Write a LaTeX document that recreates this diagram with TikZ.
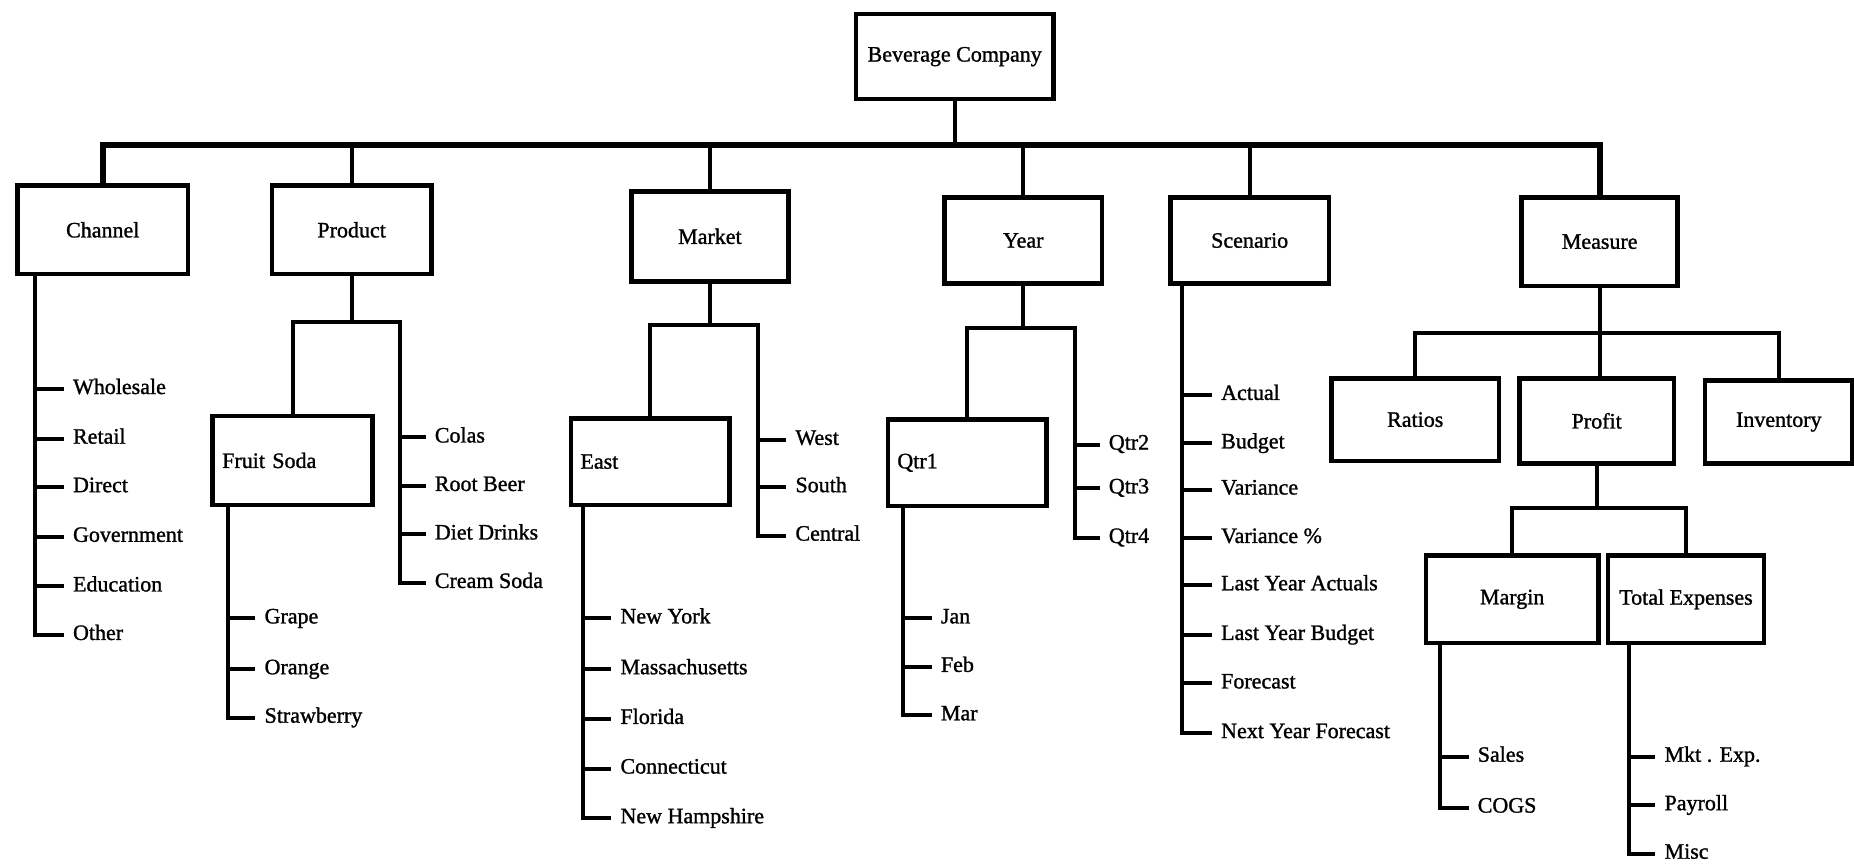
\documentclass[tikz,border=0pt]{standalone}
\usepackage{fontspec}
\setmainfont{Liberation Serif}[FakeBold=1.2]
\usetikzlibrary{calc}
\newcommand\mkbox[7][]{\node[box,minimum width={(#5-#3)*1.1824pt},minimum height={(#6-#4)*1.1824pt},#1] (#2) at (#3,#4) {#7};}
\begin{document}
\begin{tikzpicture}[x=1.1824pt, y=-1.1824pt,
  every node/.style={font=\fontsize{22}{26}\selectfont},
  box/.style={draw, line width=4.5pt, inner sep=0pt, anchor=north west},
  lbox/.style={align=left, inner xsep=9.5pt, text width={#1*1.1824pt-19pt}},
  leaf/.style={anchor=west, inner xsep=9pt, inner ysep=0pt, text height=15pt, text depth=5pt},
  conn/.style={line width=4pt, line join=miter}]
\useasboundingbox (0,0) rectangle (1568,733);
% boxes
\mkbox{root}{722}{10}{889}{82}{Beverage Company}
\mkbox{chan}{13}{155}{157}{230}{Channel}
\mkbox{prod}{228}{155}{363}{230}{Product}
\mkbox{mkt}{532}{160}{665}{236}{Market}
\mkbox{year}{797}{165}{930}{238}{Year}
\mkbox{scen}{988}{165}{1122}{238}{Scenario}
\mkbox{meas}{1285}{165}{1417}{240}{Measure}
\mkbox[lbox=135]{fruit}{178}{350}{313}{425}{Fruit Soda}
\mkbox[lbox=134]{east}{481}{352}{615}{425}{East}
\mkbox[lbox=134]{qtr1}{749}{353}{883}{426}{Qtr1}
\mkbox{ratios}{1124}{318}{1266}{388}{Ratios}
\mkbox{profit}{1283}{318}{1414}{390}{Profit}
\mkbox{inv}{1440}{320}{1565}{390}{Inventory}
\mkbox{margin}{1204}{468}{1350}{542}{Margin}
\mkbox{totexp}{1358}{468}{1490}{542}{Total Expenses}
% leaves
\node[leaf] (whole) at (54,329) {Wholesale};
\node[leaf] (retail) at (54,371) {Retail};
\node[leaf] (direct) at (54,412) {Direct};
\node[leaf] (gov) at (54,454) {Government};
\node[leaf] (edu) at (54,496) {Education};
\node[leaf] (other) at (54,537) {Other};
\node[leaf] (colas) at (360,370) {Colas};
\node[leaf] (rootb) at (360,411) {Root Beer};
\node[leaf] (diet) at (360,452) {Diet Drinks};
\node[leaf] (cream) at (360,493) {Cream Soda};
\node[leaf] (grape) at (216,523) {Grape};
\node[leaf] (orange) at (216,566) {Orange};
\node[leaf] (straw) at (216,607) {Strawberry};
\node[leaf] (west) at (665,372) {West};
\node[leaf] (south) at (665,412) {South};
\node[leaf] (central) at (665,453) {Central};
\node[leaf] (ny) at (517,523) {New York};
\node[leaf] (mass) at (517,566) {Massachusetts};
\node[leaf] (flor) at (517,608) {Florida};
\node[leaf] (conn) at (517,650) {Connecticut};
\node[leaf] (nh) at (517,692) {New Hampshire};
\node[leaf] (q2) at (930,376) {Qtr2};
\node[leaf] (q3) at (930,413) {Qtr3};
\node[leaf] (q4) at (930,455) {Qtr4};
\node[leaf] (jan) at (788,523) {Jan};
\node[leaf] (feb) at (788,564) {Feb};
\node[leaf] (mar) at (788,605) {Mar};
\node[leaf] (actual) at (1025,334) {Actual};
\node[leaf] (budget) at (1025,375) {Budget};
\node[leaf] (var) at (1025,414) {Variance};
\node[leaf] (varp) at (1025,455) {Variance \%};
\node[leaf] (lya) at (1025,495) {Last Year Actuals};
\node[leaf] (lyb) at (1025,537) {Last Year Budget};
\node[leaf] (fc) at (1025,578) {Forecast};
\node[leaf] (nyf) at (1025,620) {Next Year Forecast};
\node[leaf] (sales) at (1242,640) {Sales};
\node[leaf] (cogs) at (1242,683) {COGS};
\node[leaf] (mkte) at (1400,640) {Mkt . Exp.};
\node[leaf] (payroll) at (1400,681) {Payroll};
\node[leaf] (misc) at (1400,722) {Misc};
% top level connectors
\coordinate (bus) at (0,123);
\draw[conn] (root.south) -- (root.south |- bus);
\draw[conn, line width=6pt] (chan.north) -- (chan.north |- bus) -- (meas.north |- bus) -- (meas.north);
\foreach \n in {prod,mkt,year,scen} \draw[conn] (\n.north) -- (\n.north |- bus);
% channel
\foreach \n in {whole,retail,direct,gov,edu,other} \draw[conn] ($(chan.south west)+(17,0)$) |- (\n.west);
% product
\coordinate (pb) at (338,272);
\draw[conn] (prod.south) -- (prod.south |- pb);
\draw[conn] (fruit.north) |- (pb) |- (cream.west);
\foreach \n in {colas,rootb,diet} \draw[conn] (pb) |- (\n.west);
\foreach \n in {grape,orange,straw} \draw[conn] ($(fruit.south west)+(15,0)$) |- (\n.west);
% market
\coordinate (mb) at (641,275);
\draw[conn] (mkt.south) -- (mkt.south |- mb);
\draw[conn] (east.north) |- (mb) |- (central.west);
\foreach \n in {west,south} \draw[conn] (mb) |- (\n.west);
\foreach \n in {ny,mass,flor,conn,nh} \draw[conn] ($(east.south west)+(12,0)$) |- (\n.west);
% year
\coordinate (yb) at (909,277);
\draw[conn] (year.south) -- (year.south |- yb);
\draw[conn] (qtr1.north) |- (yb) |- (q4.west);
\foreach \n in {q2,q3} \draw[conn] (yb) |- (\n.west);
\foreach \n in {jan,feb,mar} \draw[conn] ($(qtr1.south west)+(15,0)$) |- (\n.west);
% scenario
\foreach \n in {actual,budget,var,varp,lya,lyb,fc,nyf} \draw[conn] ($(scen.south west)+(12,0)$) |- (\n.west);
% measure
\coordinate (mmb) at (0,282);
\draw[conn] (ratios.north) |- (inv.north |- mmb) -- (inv.north);
\draw[conn] (meas.south) -- (meas.south |- profit.north);
\coordinate (pfb) at (0,430);
\draw[conn] (profit.south) -- (profit.south |- pfb);
\draw[conn] (margin.north) |- (totexp.north |- pfb) -- (totexp.north);
\foreach \n in {sales,cogs} \draw[conn] ($(margin.south west)+(14,0)$) |- (\n.west);
\foreach \n in {mkte,payroll,misc} \draw[conn] ($(totexp.south west)+(20,0)$) |- (\n.west);
\end{tikzpicture}
\end{document}
